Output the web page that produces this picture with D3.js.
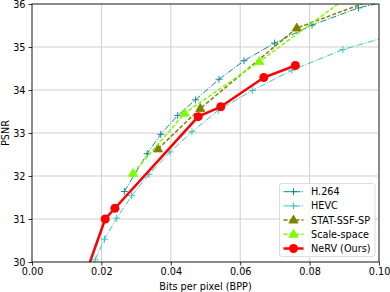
<!DOCTYPE html>
<html>
<head>
<meta charset="utf-8">
<script src="https://cdn.jsdelivr.net/npm/d3@7"></script>
<style>
  body { margin: 0; background: #ffffff; }
  svg { display: block; }
</style>
</head>
<body>
<div id="chart"></div>
<script>
// data
var h264Bpp = [0.0266, 0.0332, 0.0371, 0.0420, 0.0471, 0.0539, 0.0611, 0.0699, 0.0807, 0.0941, 0.1070];
var h264Psnr = [31.64, 32.52, 32.97, 33.41, 33.77, 34.25, 34.68, 35.09, 35.51, 35.91, 36.15];

var hevcBpp = [0.0182, 0.0209, 0.0244, 0.0287, 0.0337, 0.0398, 0.0461, 0.0537, 0.0635, 0.0749, 0.0896, 0.1070];
var hevcPsnr = [30.05, 30.53, 31.02, 31.54, 32.04, 32.56, 33.03, 33.53, 33.99, 34.46, 34.94, 35.35];

var statBpp = [0.0363, 0.0485, 0.0763, 0.1050];
var statPsnr = [32.63, 33.57, 35.44, 36.30];

var scaleBpp = [0.0291, 0.0440, 0.0655, 0.1000];
var scalePsnr = [32.06, 33.46, 34.66, 36.70];

var nervBpp = [0.0145, 0.0211, 0.0239, 0.0479, 0.0544, 0.0668, 0.0759];
var nervPsnr = [29.50, 31.00, 31.25, 33.38, 33.61, 34.29, 34.57];

var xTicks = [0.00, 0.02, 0.04, 0.06, 0.08, 0.10];
var yTicks = [30, 31, 32, 33, 34, 35, 36];

var seriesNames = ["H.264", "HEVC", "STAT-SSF-SP", "Scale-space", "NeRV (Ours)"];

var margin = { top: 4, right: 11, bottom: 30, left: 32 };
var width = 390 - margin.left - margin.right;
var height = 292 - margin.top - margin.bottom;

var svg = d3.select("#chart")
    .append("svg")
    .attr("width", 390)
    .attr("height", 292)
    .style("font-family", "'DejaVu Sans', sans-serif");

var g = svg.append("g")
    .attr("transform", "translate(" + margin.left + "," + margin.top + ")");

var x = d3.scaleLinear().domain([0, 0.10]).range([0, width]);
var y = d3.scaleLinear().domain([30, 36]).range([height, 0]);

function zip(xs, ys) {
    return xs.map(function (v, i) { return { x: v, y: ys[i] }; });
}

var series = [
    { name: seriesNames[0], data: zip(h264Bpp, h264Psnr), color: "#108c8c", dash: "6.4,1.6,1,1.6", lw: 1, marker: "plus" },
    { name: seriesNames[1], data: zip(hevcBpp, hevcPsnr), color: "#3cc4c4", dash: "6.4,1.6,1,1.6", lw: 1, marker: "plus" },
    { name: seriesNames[2], data: zip(statBpp, statPsnr), color: "#808000", dash: "4,2", lw: 1.5, marker: "tri" },
    { name: seriesNames[3], data: zip(scaleBpp, scalePsnr), color: "#7cfc00", dash: "4,2", lw: 1.5, marker: "tri" },
    { name: seriesNames[4], data: zip(nervBpp, nervPsnr), color: "#ff0000", dash: null, lw: 2.5, marker: "circle" }
];

// clip
svg.append("defs").append("clipPath")
    .attr("id", "plotclip")
    .append("rect")
    .attr("width", width)
    .attr("height", height);

// grid
g.append("g")
    .selectAll("line")
    .data(xTicks)
    .join("line")
    .attr("x1", function (d) { return x(d); })
    .attr("x2", function (d) { return x(d); })
    .attr("y1", 0)
    .attr("y2", height)
    .attr("stroke", "#cfcfcf")
    .attr("stroke-width", 1);

g.append("g")
    .selectAll("line")
    .data(yTicks)
    .join("line")
    .attr("x1", 0)
    .attr("x2", width)
    .attr("y1", function (d) { return y(d); })
    .attr("y2", function (d) { return y(d); })
    .attr("stroke", "#cfcfcf")
    .attr("stroke-width", 1);

// axes
var xAxis = g.append("g")
    .attr("transform", "translate(0," + height + ")")
    .call(d3.axisBottom(x).tickValues(xTicks).tickFormat(d3.format(".2f")).tickSize(3.5).tickPadding(3));

var yAxis = g.append("g")
    .call(d3.axisLeft(y).tickValues(yTicks).tickFormat(d3.format("d")).tickSize(3.5).tickPadding(3));

[xAxis, yAxis].forEach(function (a) {
    a.select(".domain").remove();
    a.selectAll("text")
        .attr("fill", "#000")
        .style("font-size", "9.7px")
        .style("font-family", "'DejaVu Sans', sans-serif");
    a.selectAll("line").attr("stroke", "#000").attr("stroke-width", 0.8);
});

// lines
var line = d3.line()
    .x(function (d) { return x(d.x); })
    .y(function (d) { return y(d.y); });

var plot = g.append("g").attr("clip-path", "url(#plotclip)");

function drawMarker(sel, s) {
    if (s.marker === "plus") {
        sel.append("path")
            .attr("d", "M-3.5,0H3.5M0,-3.5V3.5")
            .attr("stroke", s.color)
            .attr("stroke-width", 1)
            .attr("fill", "none");
    } else if (s.marker === "tri") {
        sel.append("path")
            .attr("d", "M0,-5L4.6,3L-4.6,3Z")
            .attr("fill", s.color)
            .attr("stroke", s.color)
            .attr("stroke-width", 0.8);
    } else {
        sel.append("circle")
            .attr("r", 4.5)
            .attr("fill", s.color);
    }
}

series.forEach(function (s) {
    plot.append("path")
        .datum(s.data)
        .attr("d", line)
        .attr("fill", "none")
        .attr("stroke", s.color)
        .attr("stroke-width", s.lw)
        .attr("stroke-dasharray", s.dash);

    plot.append("g")
        .selectAll("g")
        .data(s.data)
        .join("g")
        .attr("transform", function (d) { return "translate(" + x(d.x) + "," + y(d.y) + ")"; })
        .each(function () { drawMarker(d3.select(this), s); });
});

// spines
g.append("rect")
    .attr("width", width)
    .attr("height", height)
    .attr("fill", "none")
    .attr("stroke", "#000")
    .attr("stroke-width", 0.8);

// labels
svg.append("text")
    .attr("x", margin.left + width / 2)
    .attr("y", 290)
    .attr("text-anchor", "middle")
    .style("font-size", "9.7px")
    .text("Bits per pixel (BPP)");

svg.append("text")
    .attr("transform", "translate(8.5," + (margin.top + height / 2) + ") rotate(-90)")
    .attr("text-anchor", "middle")
    .style("font-size", "9.7px")
    .text("PSNR");

// legend
var legend = g.append("g")
    .attr("transform", "translate(" + (279.5 - margin.left) + "," + (183.5 - margin.top) + ")");

legend.append("rect")
    .attr("width", 95.5)
    .attr("height", 73)
    .attr("rx", 2.5)
    .attr("fill", "#ffffff")
    .attr("fill-opacity", 0.8)
    .attr("stroke", "#d6d6d6")
    .attr("stroke-width", 0.8);

var items = legend.selectAll(".item")
    .data(series)
    .join("g")
    .attr("class", "item")
    .attr("transform", function (d, i) { return "translate(0," + (8.2 + i * 14.2) + ")"; });

items.append("line")
    .attr("x1", 4)
    .attr("x2", 24)
    .attr("stroke", function (d) { return d.color; })
    .attr("stroke-width", function (d) { return d.lw; })
    .attr("stroke-dasharray", function (d) { return d.dash; });

items.append("g")
    .attr("transform", "translate(14,0)")
    .each(function (d) { drawMarker(d3.select(this), d); });

items.append("text")
    .attr("x", 31.5)
    .attr("dy", "0.35em")
    .style("font-size", "9.7px")
    .text(function (d) { return d.name; });
</script>
</body>
</html>
